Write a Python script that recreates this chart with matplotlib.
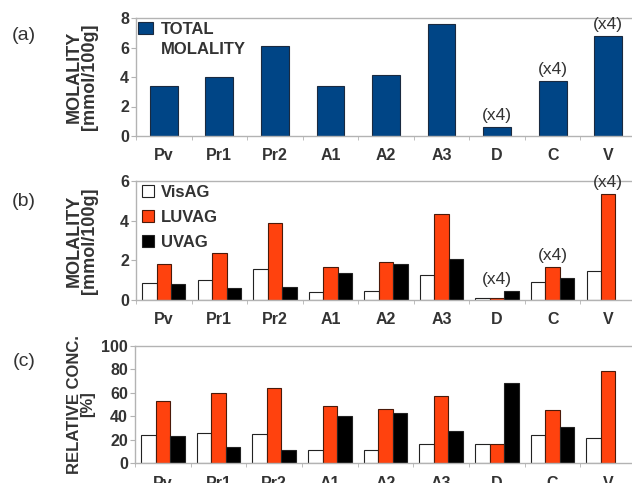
import matplotlib
matplotlib.use("Agg")
import matplotlib.pyplot as plt
import numpy as np
from matplotlib.patches import Rectangle

plt.rcParams['font.family'] = ['Liberation Sans', 'DejaVu Sans']

categories = ["Pv", "Pr1", "Pr2", "A1", "A2", "A3", "D", "C", "V"]
total = [3.39, 3.99, 6.10, 3.40, 4.15, 7.60, 0.61, 3.74, 6.80]
vis_mol = [0.86, 1.03, 1.54, 0.40, 0.46, 1.24, 0.11, 0.91, 1.44]
luv_mol = [1.80, 2.39, 3.90, 1.66, 1.92, 4.32, 0.11, 1.66, 5.36]
uv_mol = [0.79, 0.59, 0.68, 1.37, 1.80, 2.05, 0.43, 1.13, 0.0]
vis_pct = [24, 26, 25, 11, 11, 16, 16, 24, 21]
luv_pct = [53, 60, 64, 49, 46, 57, 16, 45, 79]
uv_pct = [23, 14, 11, 40, 43, 27, 68, 31, 0]
scaled = ["D", "C", "V"]  # groups annotated "(x4)"
scale_label = "(x4)"

NAVY = "#004586"
ORANGE = "#ff420e"
GRAY = "#b3b3b3"
TXT = "#333333"

W, H = 632, 483
fig = plt.figure(figsize=(W / 100, H / 100), dpi=100)

def axes_px(left, top, bottom, right=636):
    return fig.add_axes([left / W, 1 - bottom / H, (right - left) / W, (bottom - top) / H])

axa = axes_px(136, 18, 136)
axb = axes_px(136, 181, 300)
axc = axes_px(135, 346, 463)

x = np.arange(len(categories))

def style(ax, ymax, yticks):
    ax.set_xlim(-0.5, len(categories) - 0.5)
    ax.set_ylim(0, ymax)
    ax.set_yticks(yticks)
    for s in ["left", "bottom", "top"]:
        ax.spines[s].set_color(GRAY)
        ax.spines[s].set_linewidth(1.0)
    ax.spines["right"].set_visible(False)
    ax.set_xticks(x)
    ax.set_xticklabels(categories, fontsize=11.5, fontweight="bold", color=TXT)
    ax.set_xticks(np.arange(len(categories) + 1) - 0.5, minor=True)
    ax.tick_params(axis="x", which="major", length=0, pad=9)
    ax.tick_params(axis="x", which="minor", length=3, color=GRAY, direction="out")
    ax.tick_params(axis="y", length=3.5, color=GRAY, pad=1.5, labelsize=11.5,
                   labelcolor=TXT)
    for t in ax.get_yticklabels():
        t.set_fontweight("bold")
    ax.patch.set_alpha(0)

def annotate(ax, heights):
    for i, c in enumerate(categories):
        if c in scaled:
            ax.annotate(scale_label, (x[i], heights[i]), xytext=(0, 3),
                        textcoords="offset points", ha="center", va="bottom",
                        fontsize=12.5, color=TXT, annotation_clip=False)

# (a)
ba = axa.bar(x, total, width=0.5, color=NAVY, edgecolor="#1a2a40", linewidth=0.8)
style(axa, 8, [0, 2, 4, 6, 8])
annotate(axa, total)
blank = Rectangle((0, 0), 1, 1, fill=False, edgecolor="none", linewidth=0)
axa.legend([ba, blank], ["TOTAL", "MOLALITY"], loc="upper left",
           bbox_to_anchor=(0.004, 0.965), frameon=False, handlelength=0.9,
           handleheight=0.7, handletextpad=0.5, labelspacing=0.28, borderpad=0,
           borderaxespad=0, prop={"size": 12, "weight": "bold"}, labelcolor=TXT)

# grouped bars
bw = 0.26

def grouped(ax, a, b, c):
    r1 = ax.bar(x - bw, a, bw, color="white", edgecolor="#222222", linewidth=0.8)
    r2 = ax.bar(x, b, bw, color=ORANGE, edgecolor="#4a1a0a", linewidth=0.8)
    r3 = ax.bar(x + bw, c, bw, color="black", edgecolor="#222222", linewidth=0.8)
    for cont in (r1, r2, r3):
        for p in cont.patches:
            if p.get_height() == 0:
                p.set_linewidth(0)
    return r1, r2, r3

rb = grouped(axb, vis_mol, luv_mol, uv_mol)
style(axb, 6, [0, 2, 4, 6])
annotate(axb, [max(v) for v in zip(vis_mol, luv_mol, uv_mol)])
axb.legend(rb, ["VisAG", "LUVAG", "UVAG"], loc="upper left",
           bbox_to_anchor=(0.012, 0.97), frameon=False, handlelength=0.7,
           handleheight=0.7, handletextpad=0.45, labelspacing=0.6, borderpad=0,
           borderaxespad=0, prop={"size": 12, "weight": "bold"}, labelcolor=TXT)

rc = grouped(axc, vis_pct, luv_pct, uv_pct)
style(axc, 100, [0, 20, 40, 60, 80, 100])

# y labels
for ax, lab, xc, fs in [(axa, "MOLALITY\n[mmol/100g]", 82, 13),
                        (axb, "MOLALITY\n[mmol/100g]", 82, 13),
                        (axc, "RELATIVE CONC.\n[%]", 81, 12)]:
    ax.set_ylabel(lab, fontsize=fs, fontweight="bold", color=TXT, ha="center",
                  va="center", linespacing=0.9)
    bb = ax.get_position()
    ax.yaxis.set_label_coords((xc / W - bb.x0) / bb.width, 0.5)

# panel labels
for lab, yc in [("(a)", 36), ("(b)", 201), ("(c)", 362)]:
    fig.text(24 / W, 1 - yc / H, lab, fontsize=14, color=TXT, ha="center", va="center")

fig.savefig("out.png", dpi=100)
